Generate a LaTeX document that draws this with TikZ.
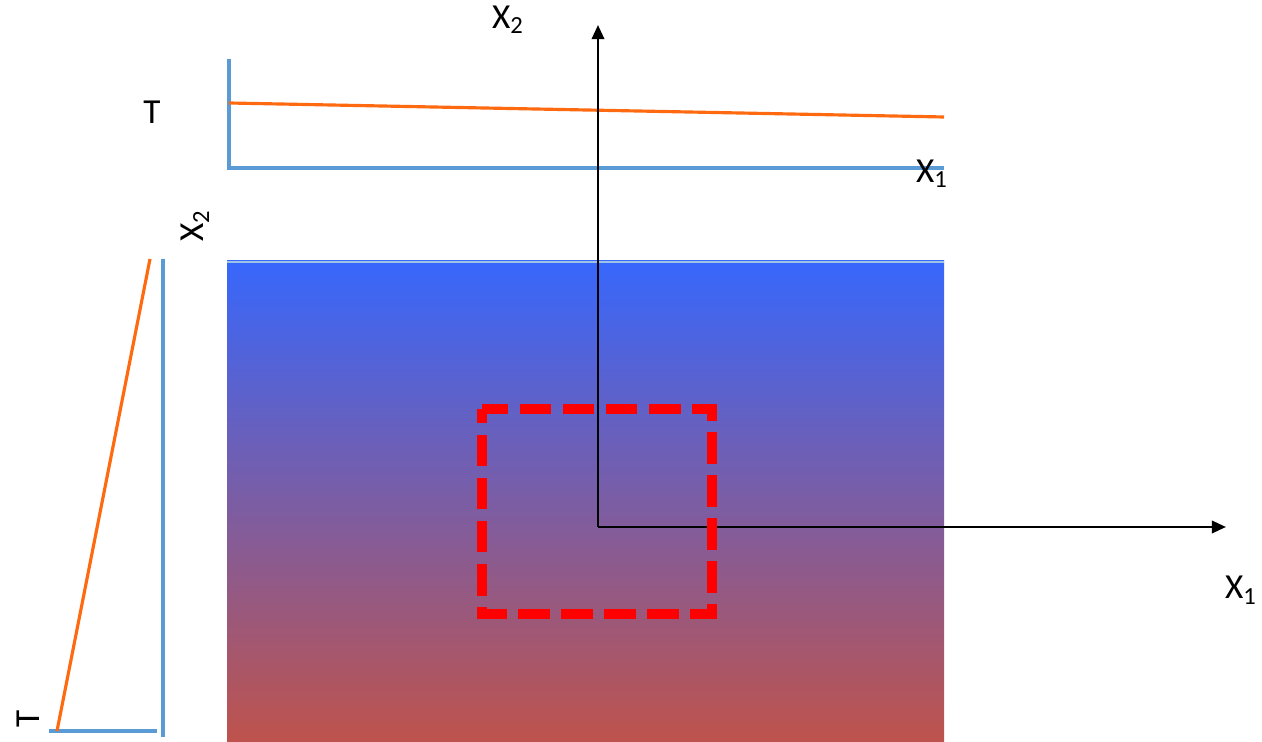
\documentclass[tikz,border=0pt]{standalone}
\usepackage{fontspec}
\setmainfont{Carlito}
\usetikzlibrary{arrows.meta}
\definecolor{axblue}{HTML}{5B9BD5}
\definecolor{lorange}{HTML}{FF6A10}
\definecolor{gtop}{HTML}{3767FC}
\definecolor{gbot}{HTML}{BF534C}
\definecolor{dred}{HTML}{FF0000}
\tikzset{
  plotaxis/.style={draw=axblue, line width=1.8pt},
  plotline/.style={draw=lorange, line width=1.8pt},
  mainaxis/.style={draw=black, line width=1.4pt, -{Triangle[length=8pt,width=7pt]}},
  lbl/.style={font=\fontsize{20}{24}\selectfont, inner sep=0pt},
  dashbox/.style={draw=dred, line width=6pt, dash pattern=on 18pt off 6.5pt, dash phase=3pt}
}
\begin{document}
\begin{tikzpicture}[x=0.02cm, y=-0.02cm]
\useasboundingbox (0,0) rectangle (1262,742);
% gradient field
\shade[top color=gtop, bottom color=gbot] (227,261) rectangle (944,742);
\draw[draw=axblue!60, line width=1pt] (227,262) -- (944,262);
% top plot
\coordinate (tO) at (229,168);
\coordinate (tY) at (229,59);
\coordinate (tX) at (944,168);
\coordinate (tA) at (229,103);
\coordinate (tB) at (944,117);
\draw[plotaxis] (tY) -- (tO) -- (tX);
\draw[plotline] (tA) -- (tB);
\node[lbl] (tT) at (152,112) {T};
\node[lbl] (tX1) at (932,174) {X\textsubscript{1}};
% left plot
\coordinate (lV1) at (163,259);
\coordinate (lV2) at (163,737);
\coordinate (lH1) at (49,731);
\coordinate (lH2) at (157,731);
\coordinate (lA) at (57,731);
\coordinate (lB) at (150,259);
\draw[plotaxis] (lV1) -- (lV2);
\draw[plotaxis] (lH1) -- (lH2);
\draw[plotline] (lA) -- (lB);
\node[lbl, rotate=90] (lX2) at (195,226) {X\textsubscript{2}};
\node[lbl, rotate=90] (lT) at (28,719) {T};
% main axes
\coordinate (O) at (598,527);
\coordinate (Y) at (598,25);
\coordinate (X) at (1226,527);
\draw[mainaxis] (O) -- (Y);
\draw[mainaxis] (O) -- (X);
\node[lbl] (X2) at (508,20) {X\textsubscript{2}};
\node[lbl] (X1) at (1241,590) {X\textsubscript{1}};
% dashed box
\draw[dashbox] (482,409) -- (712,409) -- (712,614) -- (482,614) -- cycle;
\end{tikzpicture}
\end{document}
